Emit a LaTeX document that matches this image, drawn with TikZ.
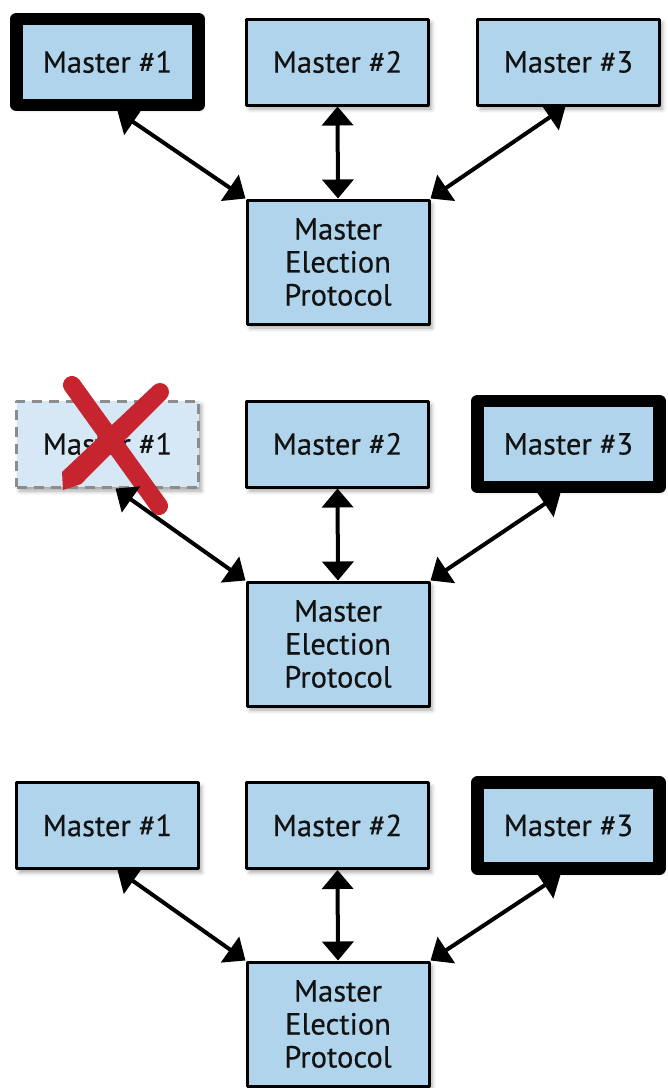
\documentclass[tikz,border=0pt]{standalone}
\usepackage{fontspec}
\setmainfont{PT Sans}
\newfontfamily\boxfont[FakeBold=0.4]{PT Sans}
\usetikzlibrary{arrows.meta,shadows.blur}
\definecolor{boxblue}{RGB}{176,212,235}
\definecolor{ghostblue}{RGB}{214,232,245}
\definecolor{ghostgray}{RGB}{140,140,140}
\definecolor{crossred}{RGB}{198,36,46}
\definecolor{ink}{RGB}{18,18,18}
\tikzset{
  boxshadow/.style={blur shadow={shadow xshift=3pt, shadow yshift=-4pt,
      shadow blur radius=4pt, shadow opacity=35}},
  master/.style={draw=black, line width=3pt, fill=boxblue, text=ink,
      minimum width=182pt, minimum height=86pt, inner sep=0pt,
      line join=round, font=\boxfont\fontsize{30.5}{33}\selectfont, boxshadow},
  leader/.style={master, line width=12.5pt},
  failed/.style={master, draw=ghostgray, fill=ghostblue,
      dash pattern=on 10pt off 7pt},
  election/.style={master, minimum height=124pt, align=center},
  link/.style={{Triangle[length=19pt,width=31pt]}-{Triangle[length=19pt,width=31pt]},
      line width=4pt, draw=black},
  cross/.style={draw=crossred, line width=18pt, line cap=round}
}
\begin{document}
\begin{tikzpicture}[x=1pt,y=-1pt]
\useasboundingbox (0,0) rectangle (668,1088);

% ---- before: master #1 leads
\node[leader]   (a1) at (107.5,62)  {Master \#1};
\node[master]   (a2) at (337.5,62)  {Master \#2};
\node[master]   (a3) at (568.5,62)  {Master \#3};
\node[election] (ae) at (338,262)   {Master\\Election\\Protocol};
\draw[link] ([xshift=10pt]a1.south) -- (ae.north west);
\draw[link] (a2.south) -- (ae.north);
\draw[link] ([xshift=-3pt]a3.south) -- (ae.north east);

% ---- failure: master #1 is lost, master #3 takes over
\node[failed]   (b1) at (107.5,444) {Master \#1};
\node[master]   (b2) at (337.5,444) {Master \#2};
\node[leader]   (b3) at (568.5,444) {Master \#3};
\node[election] (be) at (338,644)   {Master\\Election\\Protocol};
% red cross over the failed master: one round stroke, one brush stroke
\draw[cross] (72,385) -- (159,506);
\fill[crossred] (160,392) circle (9pt);
\fill[crossred] (153.6,385.6) -- (62,472) -- (63,490) -- (81,484)
  -- (166.4,398.4) -- cycle;
\draw[link] ([xshift=8pt]b1.south) -- (be.north west);
\draw[link] (b2.south) -- (be.north);
\draw[link] ([xshift=-8pt]b3.south) -- (be.north east);

% ---- after: master #1 back as follower
\node[master]   (c1) at (107.5,825.5) {Master \#1};
\node[master]   (c2) at (337.5,825.5) {Master \#2};
\node[leader]   (c3) at (568.5,825.5) {Master \#3};
\node[election] (ce) at (338,1024)    {Master\\Election\\Protocol};
\draw[link] ([xshift=10pt]c1.south) -- (ce.north west);
\draw[link] (c2.south) -- (ce.north);
\draw[link] ([xshift=-8pt]c3.south) -- (ce.north east);
\end{tikzpicture}
\end{document}
